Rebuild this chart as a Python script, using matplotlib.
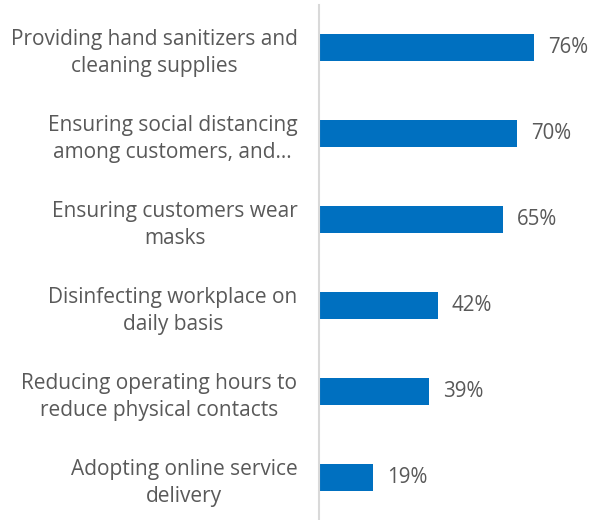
import matplotlib.pyplot as plt

# survey answers, top to bottom
measures = [
    "Providing hand sanitizers and\ncleaning supplies",
    "Ensuring social distancing\namong customers, and…",
    "Ensuring customers wear\nmasks",
    "Disinfecting workplace on\ndaily basis",
    "Reducing operating hours to\nreduce physical contacts",
    "Adopting online service\ndelivery",
]
shares = [76, 70, 65, 42, 39, 19]

bar_color = "#0070C0"
text_color = "#595959"

plt.rcParams['font.family'] = ['Open Sans', 'DejaVu Sans']

fig = plt.figure(figsize=(5.99, 5.2), dpi=100)
ax = fig.add_axes([319 / 599, 0, 1 - 319 / 599, 515 / 520])

pos = list(range(len(measures)))
ax.barh(pos, shares, height=0.315, color=bar_color)
ax.set_ylim(len(measures) - 0.5, -0.5)
ax.set_xlim(0, 99)

for p, v in zip(pos, shares):
    ax.text(v + 5, p, f"{v}%", va="center", ha="left", fontsize=14.8, color=text_color)

ax.set_yticks(pos)
ax.set_yticklabels(measures, fontsize=15, color=text_color, ha="right",
                   multialignment="center", linespacing=1.38)
ax.tick_params(axis="y", length=0, pad=15.5)
ax.set_xticks([])

for side in ["top", "right", "bottom"]:
    ax.spines[side].set_visible(False)
ax.spines["left"].set_color("#D9D9D9")
ax.spines["left"].set_linewidth(1.5)

fig.savefig("out.png", dpi=100)
